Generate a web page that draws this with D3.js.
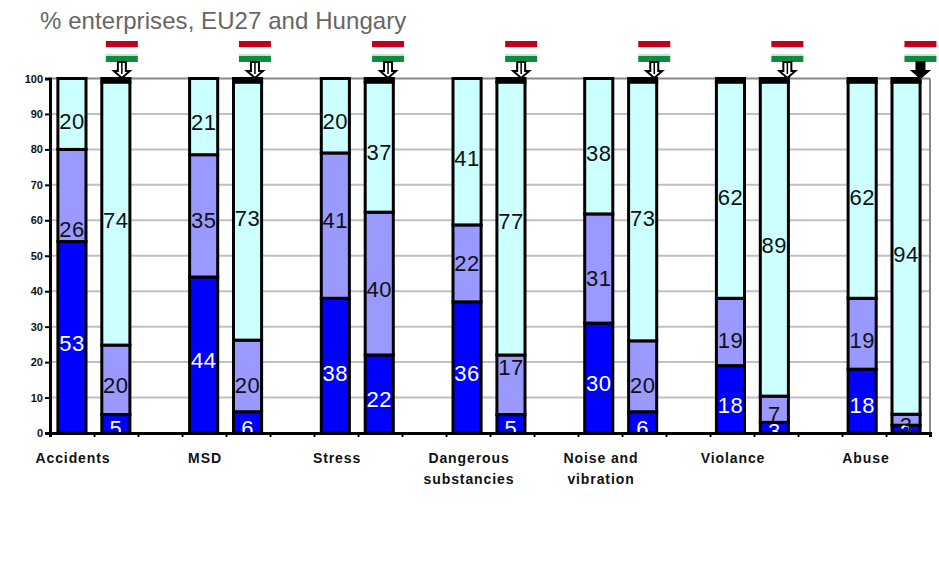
<!DOCTYPE html>
<html>
<head>
<meta charset="utf-8">
<script src="https://cdn.jsdelivr.net/npm/d3@7"></script>
<style>
  html, body { margin: 0; background: #fff; }
  text { font-family: "Liberation Sans", Arial, sans-serif; }
</style>
</head>
<body>
<div id="chart"></div>
<script>
const categories = ['Accidents', 'MSD', 'Stress', 'Dangerous substancies', 'Noise and vibration', 'Violance', 'Abuse'];
const yTicks = [0, 10, 20, 30, 40, 50, 60, 70, 80, 90, 100];

// bar heights
const euLow = [54, 44, 38, 37, 31, 19, 18];
const euMid = [26, 34.5, 41, 21.7, 30.8, 19, 20];
const euHigh = [20, 21.5, 21, 41.3, 38.2, 61, 61];
const euRest = [0, 0, 0, 0, 0, 1, 1];
const huLow = [5.2, 6, 22, 5.2, 6, 3, 2.2];
const huMid = [19.6, 20.2, 40.3, 16.8, 20, 7.4, 3.1];
const huHigh = [74.2, 72.8, 36.7, 77, 73, 88.6, 93.7];
const huRest = [1, 1, 1, 1, 1, 1, 1];

// printed labels
const euLowText = ['53', '44', '38', '36', '30', '18', '18'];
const euMidText = ['26', '35', '41', '22', '31', '19', '19'];
const euHighText = ['20', '21', '20', '41', '38', '62', '62'];
const huLowText = ['5', '6', '22', '5', '6', '3', '2'];
const huMidText = ['20', '20', '40', '17', '20', '7', '3'];
const huHighText = ['74', '73', '37', '77', '73', '89', '94'];

// where the printed labels sit on the value axis, they are not centred in the segments
const euLowAt = [25.5, 20.5, 17, 17, 14, 8, 8];
const euMidAt = [57.5, 60, 60, 47.8, 43.7, 26.2, 26.2];
const euHighAt = [88, 87.7, 88, 77.5, 79, 66.5, 66.5];
const huLowAt = [1.4, 1.4, 9.5, 1.4, 1.4, 0.5, 0.3];
const huMidAt = [13.5, 13.5, 40.5, 18.5, 13.5, 5.2, 2.3];
const huHighAt = [60, 60.6, 79.2, 59.7, 60.6, 53, 50.5];

const width = 939;
const height = 580;
const margin = { top: 78.5, right: 9, bottom: 147, left: 50 };

const svg = d3.select('#chart')
  .append('svg')
  .attr('width', width)
  .attr('height', height)
  .style('display', 'block');

svg.append('text')
  .attr('x', 40)
  .attr('y', 29)
  .attr('fill', '#666')
  .attr('font-size', 24)
  .attr('letter-spacing', 0.07)
  .text('% enterprises, EU27 and Hungary');

// 3 slots per category, eu / hungary / gap, the last gap is cut off
const slots = d3.range(20);
const x = d3.scaleBand()
  .domain(slots)
  .range([margin.left, width - margin.right - 2])
  .paddingInner(0.36)
  .paddingOuter(0.18);
const slotEdge = d3.scaleLinear()
  .domain([0, 20])
  .range([margin.left, width - margin.right]);
const y = d3.scaleLinear()
  .domain([0, 100])
  .range([height - margin.bottom, margin.top]);

// grid
svg.append('g')
  .selectAll('line')
  .data(yTicks.filter(d => d > 0))
  .join('line')
  .attr('x1', margin.left)
  .attr('x2', width - margin.right)
  .attr('y1', d => y(d))
  .attr('y2', d => y(d))
  .attr('stroke', d => d === 100 ? '#888' : '#c0c0c0')
  .attr('stroke-width', 2);

svg.append('line')
  .attr('x1', width - margin.right)
  .attr('x2', width - margin.right)
  .attr('y1', y(100))
  .attr('y2', y(0))
  .attr('stroke', '#888')
  .attr('stroke-width', 2);

const bars = [];
const labels = [];
categories.forEach((c, i) => {
  const groups = [
    { slot: i * 3, vals: [euLow[i], euMid[i], euHigh[i], euRest[i]], text: [euLowText[i], euMidText[i], euHighText[i]], at: [euLowAt[i], euMidAt[i], euHighAt[i]] },
    { slot: i * 3 + 1, vals: [huLow[i], huMid[i], huHigh[i], huRest[i]], text: [huLowText[i], huMidText[i], huHighText[i]], at: [huLowAt[i], huMidAt[i], huHighAt[i]] }
  ];
  groups.forEach(g => {
    let base = 0;
    g.vals.forEach((v, s) => {
      if (v > 0) bars.push({ slot: g.slot, s, from: base, to: base + v });
      base += v;
    });
    g.text.forEach((t, s) => labels.push({ slot: g.slot, s, t, at: g.at[s] }));
  });
});

const fills = ['#0000ff', '#9999ff', '#ccffff', '#000'];
const labelFills = ['#fff', '#111', '#111'];

svg.append('g')
  .selectAll('rect')
  .data(bars)
  .join('rect')
  .attr('x', d => x(d.slot))
  .attr('width', x.bandwidth())
  .attr('y', d => y(d.to))
  .attr('height', d => y(d.from) - y(d.to))
  .attr('fill', d => fills[d.s])
  .attr('stroke', '#000')
  .attr('stroke-width', 3);

// labels get cut at the axis in the original
svg.append('clipPath')
  .attr('id', 'plot')
  .append('rect')
  .attr('x', 0)
  .attr('y', 0)
  .attr('width', width)
  .attr('height', y(0));

svg.append('g')
  .attr('clip-path', 'url(#plot)')
  .selectAll('text')
  .data(labels)
  .join('text')
  .attr('x', d => x(d.slot) + x.bandwidth() / 2)
  .attr('y', d => y(d.at))
  .attr('dy', '0.36em')
  .attr('text-anchor', 'middle')
  .attr('font-size', 22)
  .attr('letter-spacing', 0.5)
  .attr('fill', d => labelFills[d.s])
  .text(d => d.t);

// axes
const yAxis = svg.append('g')
  .attr('transform', `translate(${margin.left},0)`)
  .call(d3.axisLeft(y).tickValues(yTicks).tickSize(5).tickPadding(2));
const xAxis = svg.append('g')
  .attr('transform', `translate(0,${y(0)})`)
  .call(d3.axisBottom(slotEdge).ticks(20).tickSize(4).tickFormat(''));

[yAxis, xAxis].forEach(a => {
  a.selectAll('path').attr('stroke', '#000').attr('stroke-width', 3);
  a.selectAll('line').attr('stroke', '#000').attr('stroke-width', 2);
});
yAxis.selectAll('text')
  .attr('font-size', 11)
  .attr('font-weight', 'bold')
  .attr('font-family', '"Liberation Sans", Arial, sans-serif')
  .attr('fill', '#111');

// category names
const catLabels = svg.append('g')
  .selectAll('text')
  .data(categories)
  .join('text')
  .attr('x', (d, i) => slotEdge(i * 3 + 1) - 21 + (i === 6 ? 1 : 0))
  .attr('y', 463)
  .attr('text-anchor', 'middle')
  .attr('font-size', 14)
  .attr('font-weight', 'bold')
  .attr('letter-spacing', 0.9)
  .attr('fill', '#111');

catLabels.each(function (d) {
  const words = d === 'Dangerous substancies' ? ['Dangerous', 'substancies']
    : d === 'Noise and vibration' ? ['Noise and', 'vibration'] : [d];
  const sel = d3.select(this);
  const cx = sel.attr('x');
  words.forEach((w, k) => {
    sel.append('tspan').attr('x', cx).attr('dy', k ? 21 : 0).text(w);
  });
});

// flags with arrows pointing at the hungarian bars, they drift right across the chart
const flags = svg.append('g')
  .selectAll('g')
  .data(categories)
  .join('g')
  .attr('transform', (d, i) => `translate(${x(i * 3 + 1) + x.bandwidth() / 2 + 6 + i * 1.4},0)`);

const flagStripes = [
  { c: '#c00020', h: 6 }, { c: '#f0c8d0', h: 1 }, { c: '#fff', h: 6 },
  { c: '#c8e0d0', h: 2 }, { c: '#108a40', h: 6 }
];
let stripeTop = 41;
flagStripes.forEach(s => {
  flags.append('rect')
    .attr('x', -16)
    .attr('width', 32)
    .attr('y', stripeTop)
    .attr('height', s.h)
    .attr('fill', s.c);
  stripeTop += s.h;
});

flags.append('path')
  .attr('d', 'M-4,62V71H-8L0,78L8,71H4V62Z')
  .attr('fill', (d, i) => i === 6 ? '#000' : '#fff')
  .attr('stroke', '#000')
  .attr('stroke-width', 2);
flags.append('line')
  .attr('y1', 62)
  .attr('y2', 74)
  .attr('stroke', '#000')
  .attr('stroke-width', 1.5);
</script>
</body>
</html>
